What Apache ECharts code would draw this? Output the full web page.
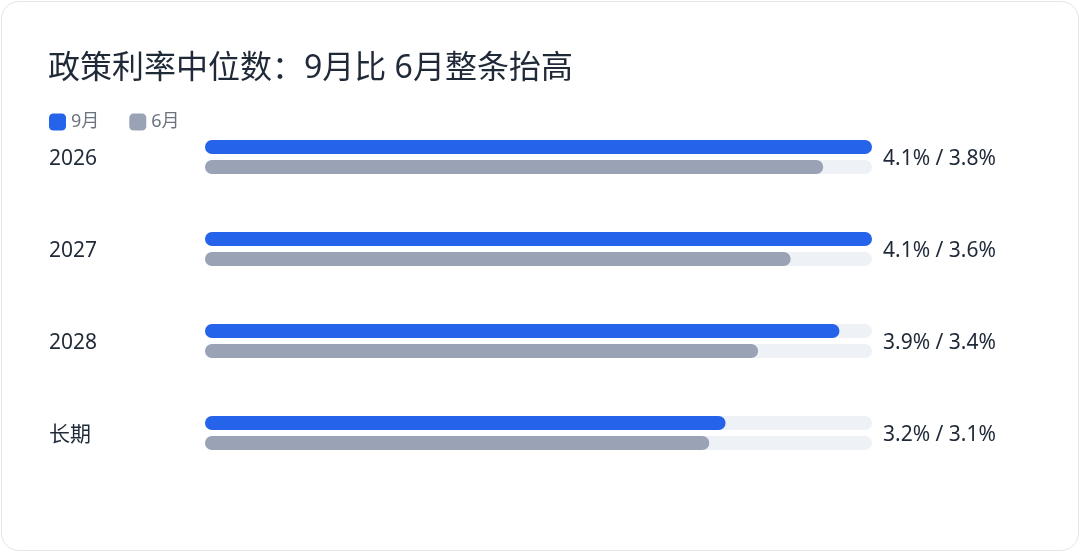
<!DOCTYPE html>
<html>
<head>
<meta charset="utf-8">
<script src="https://cdn.jsdelivr.net/npm/echarts@6/dist/echarts.min.js"></script>
<style>
    html, body {margin: 0; padding: 0; background: #fff;}
    #card {
        position: absolute; left: 1px; top: 1px; width: 1076px; height: 548px;
        border: 1px solid #e3e6eb; border-radius: 18px; overflow: hidden;
    }
    #main {width: 1076px; height: 548px;}
</style>
</head>
<body>
<div id="card"><div id="main"></div></div>
<script>
// 数据
var categories = ['2026', '2027', '2028', '长期'];
var sepValues = [4.1, 4.1, 3.9, 3.2];
var junValues = [3.8, 3.6, 3.4, 3.1];
var seriesNames = ['9月', '6月'];

var myChart = echarts.init(document.getElementById('main'));
var font = '"Noto Sans", "Noto Sans CJK SC", sans-serif';

// 右侧文字: 9月 / 6月
var rightLabels = categories.map(function (c, i) {
    return sepValues[i].toFixed(1) + '% / ' + junValues[i].toFixed(1) + '%';
});

// 文字稍微下移
var labelRich = {
    t: {fontSize: 21, color: '#1f2937', fontFamily: font, padding: [5, 0, 0, 0]}
};

var option = {
    animation: false,
    textStyle: {fontFamily: font},
    title: {
        text: '政策利率中位数：9月比 6月整条抬高',
        left: 41,
        top: 46,
        textStyle: {fontSize: 32, fontWeight: 'normal', color: '#1f2937', fontFamily: font}
    },
    legend: {
        data: seriesNames,
        left: 42,
        top: 106,
        icon: 'roundRect',
        itemWidth: 17,
        itemHeight: 17,
        itemGap: 30,
        textStyle: {fontSize: 18, color: '#6b7280', fontFamily: font}
    },
    grid: {left: 203, right: 206, top: 109, bottom: 71},
    xAxis: {
        type: 'value',
        min: 0,
        max: 4.1,
        show: false
    },
    yAxis: [{
        type: 'category',
        data: categories,
        inverse: true,
        axisLine: {show: false},
        axisTick: {show: false},
        axisLabel: {
            align: 'left',
            margin: 156,
            formatter: function (v) { return '{t|' + v + '}'; },
            rich: labelRich
        }
    }, {
        type: 'category',
        data: rightLabels,
        inverse: true,
        position: 'right',
        axisLine: {show: false},
        axisTick: {show: false},
        axisLabel: {
            align: 'left',
            margin: 11,
            formatter: function (v) { return '{t|' + v + '}'; },
            rich: labelRich
        }
    }],
    series: [{
        name: seriesNames[0],
        type: 'bar',
        data: sepValues,
        barWidth: 14,
        barGap: '43%',
        showBackground: true,
        backgroundStyle: {color: '#eef1f6', borderRadius: 7},
        itemStyle: {color: '#2563eb', borderRadius: 7}
    }, {
        name: seriesNames[1],
        type: 'bar',
        data: junValues,
        barWidth: 14,
        barGap: '43%',
        showBackground: true,
        backgroundStyle: {color: '#eef1f6', borderRadius: 7},
        itemStyle: {color: '#99a3b5', borderRadius: 7}
    }]
};
myChart.setOption(option);
</script>
</body>
</html>
